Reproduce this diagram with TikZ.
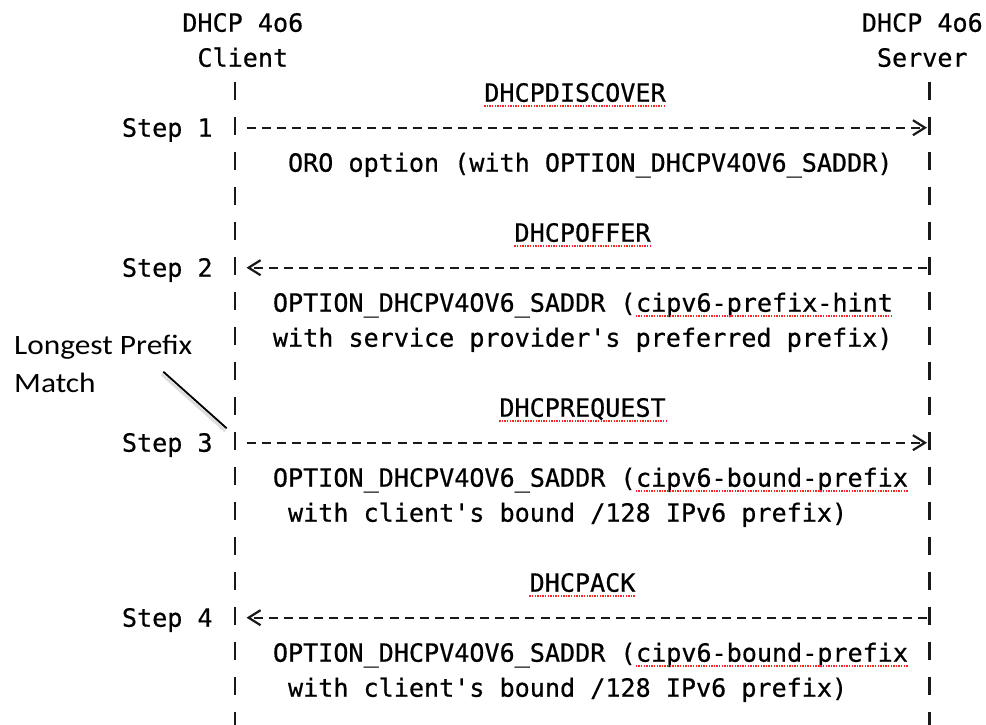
\documentclass[tikz,border=0pt]{standalone}
\usepackage{fontspec}
\setmonofont[FakeBold=0.6]{DejaVu Sans Mono}
\newfontfamily\notefont[FakeStretch=1.12]{Carlito}
\usepackage{tikz}
\usetikzlibrary{arrows.meta,calc}

\tikzset{
    ascii/.style={font=\ttfamily\fontsize{25.1}{35}\selectfont, inner sep=0pt, anchor=base west, text=black},
    spell/.style={draw=red!85, line width=1.5pt, dash pattern=on 1.4pt off 1.2pt},
    lifeline/.style={draw=black!90, line width=2.4pt, dash pattern=on 18.3pt off 16.7pt},
    msg/.style={draw=black!90, line width=2pt, dash pattern=on 9pt off 6.1pt, -{Straight Barb[length=12pt,width=15pt,line width=2.2pt]}},
    note/.style={font=\notefont\fontsize{28}{38}\selectfont, inner sep=0pt, anchor=base west}
}

\begin{document}
\begin{tikzpicture}[x=1pt,y=-1pt]
    \useasboundingbox (0,0) rectangle (986,725);

    % Client / Server
    \node[ascii] (hdrCl) at (182.15,31.7) {DHCP 4o6};
    \node[ascii] (client) at (197.25,66.7) {Client};
    \node[ascii] (hdrSv) at (861.65,31.7) {DHCP 4o6};
    \node[ascii] (server) at (876.75,66.7) {Server};

    \coordinate (clientTop) at (235,81.7);
    \coordinate (clientEnd) at (235,725);
    \coordinate (serverTop) at (929.6,81.7);
    \coordinate (serverEnd) at (929.6,725);
    \draw[lifeline] (clientTop) -- (clientEnd);
    \draw[lifeline] (serverTop) -- (serverEnd);

    % Step 1
    \node[ascii] (disc) at (484.15,101.7) {DHCPDISCOVER};
    \node[ascii] (step1) at (121.75,136.7) {Step 1};
    \coordinate (c1) at (246.5,127.7);
    \coordinate (s1) at (927,127.7);
    \draw[msg] (c1) -- (s1);
    \node[ascii] (oro) at (287.85,171.7) {ORO option (with OPTION\_DHCPV4OV6\_SADDR)};

    % Step 2
    \node[ascii] (offer) at (514.35,241.7) {DHCPOFFER};
    \node[ascii] (step2) at (121.75,276.7) {Step 2};
    \coordinate (c2) at (246.5,267.7);
    \coordinate (s2) at (927,267.7);
    \draw[msg] (s2) -- (c2);
    \node[ascii] (opt2) at (272.75,311.7) {OPTION\_DHCPV4OV6\_SADDR (};
    \node[ascii] (hint) at (opt2.base east) {cipv6-prefix-hint};
    \node[ascii] (with2) at (272.75,346.7) {with service provider's preferred prefix)};

    % Step 3
    \node[ascii] (req) at (499.25,416.7) {DHCPREQUEST};
    \node[ascii] (step3) at (121.75,451.7) {Step 3};
    \coordinate (c3) at (246.5,442.7);
    \coordinate (s3) at (927,442.7);
    \draw[msg] (c3) -- (s3);
    \node[ascii] (opt3) at (272.75,486.7) {OPTION\_DHCPV4OV6\_SADDR (};
    \node[ascii] (bnd3) at (opt3.base east) {cipv6-bound-prefix};
    \node[ascii] (with3) at (287.85,521.7) {with client's bound /128 IPv6 prefix)};

    % Step 4
    \node[ascii] (ack) at (529.45,591.7) {DHCPACK};
    \node[ascii] (step4) at (121.75,626.7) {Step 4};
    \coordinate (c4) at (246.5,617.7);
    \coordinate (s4) at (927,617.7);
    \draw[msg] (s4) -- (c4);
    \node[ascii] (opt4) at (272.75,661.7) {OPTION\_DHCPV4OV6\_SADDR (};
    \node[ascii] (bnd4) at (opt4.base east) {cipv6-bound-prefix};
    \node[ascii] (with4) at (287.85,696.7) {with client's bound /128 IPv6 prefix)};

    % spell-check marks
    \draw[spell] ($(disc.base west)+(0,4.5)$) -- ($(disc.base east)+(0,4.5)$);
    \draw[spell] ($(offer.base west)+(0,4.5)$) -- ($(offer.base east)+(0,4.5)$);
    \draw[spell] ($(hint.base west)+(0,4.5)$) -- ($(hint.base east)+(0,4.5)$);
    \draw[spell] ($(req.base west)+(0,4.5)$) -- ($(req.base east)+(0,4.5)$);
    \draw[spell] ($(bnd3.base west)+(0,4.5)$) -- ($(bnd3.base east)+(0,4.5)$);
    \draw[spell] ($(ack.base west)+(0,4.5)$) -- ($(ack.base east)+(0,4.5)$);
    \draw[spell] ($(bnd4.base west)+(0,4.5)$) -- ($(bnd4.base east)+(0,4.5)$);

    % Longest Prefix Match
    \node[note] (lpmA) at (14,354) {Longest Prefix};
    \node[note] (lpmB) at (14,392.7) {Match};
    \coordinate (lpmTail) at (163.3,371.7);
    \coordinate (lpmTip) at (226.7,428.3);
    \draw[gray!45, line width=3pt, opacity=0.6] ($(lpmTail)+(-1.5,2.5)$) -- ($(lpmTip)+(-1.5,2.5)$);
    \draw[black, line width=1.8pt] (lpmTail) -- (lpmTip);
\end{tikzpicture}
\end{document}
